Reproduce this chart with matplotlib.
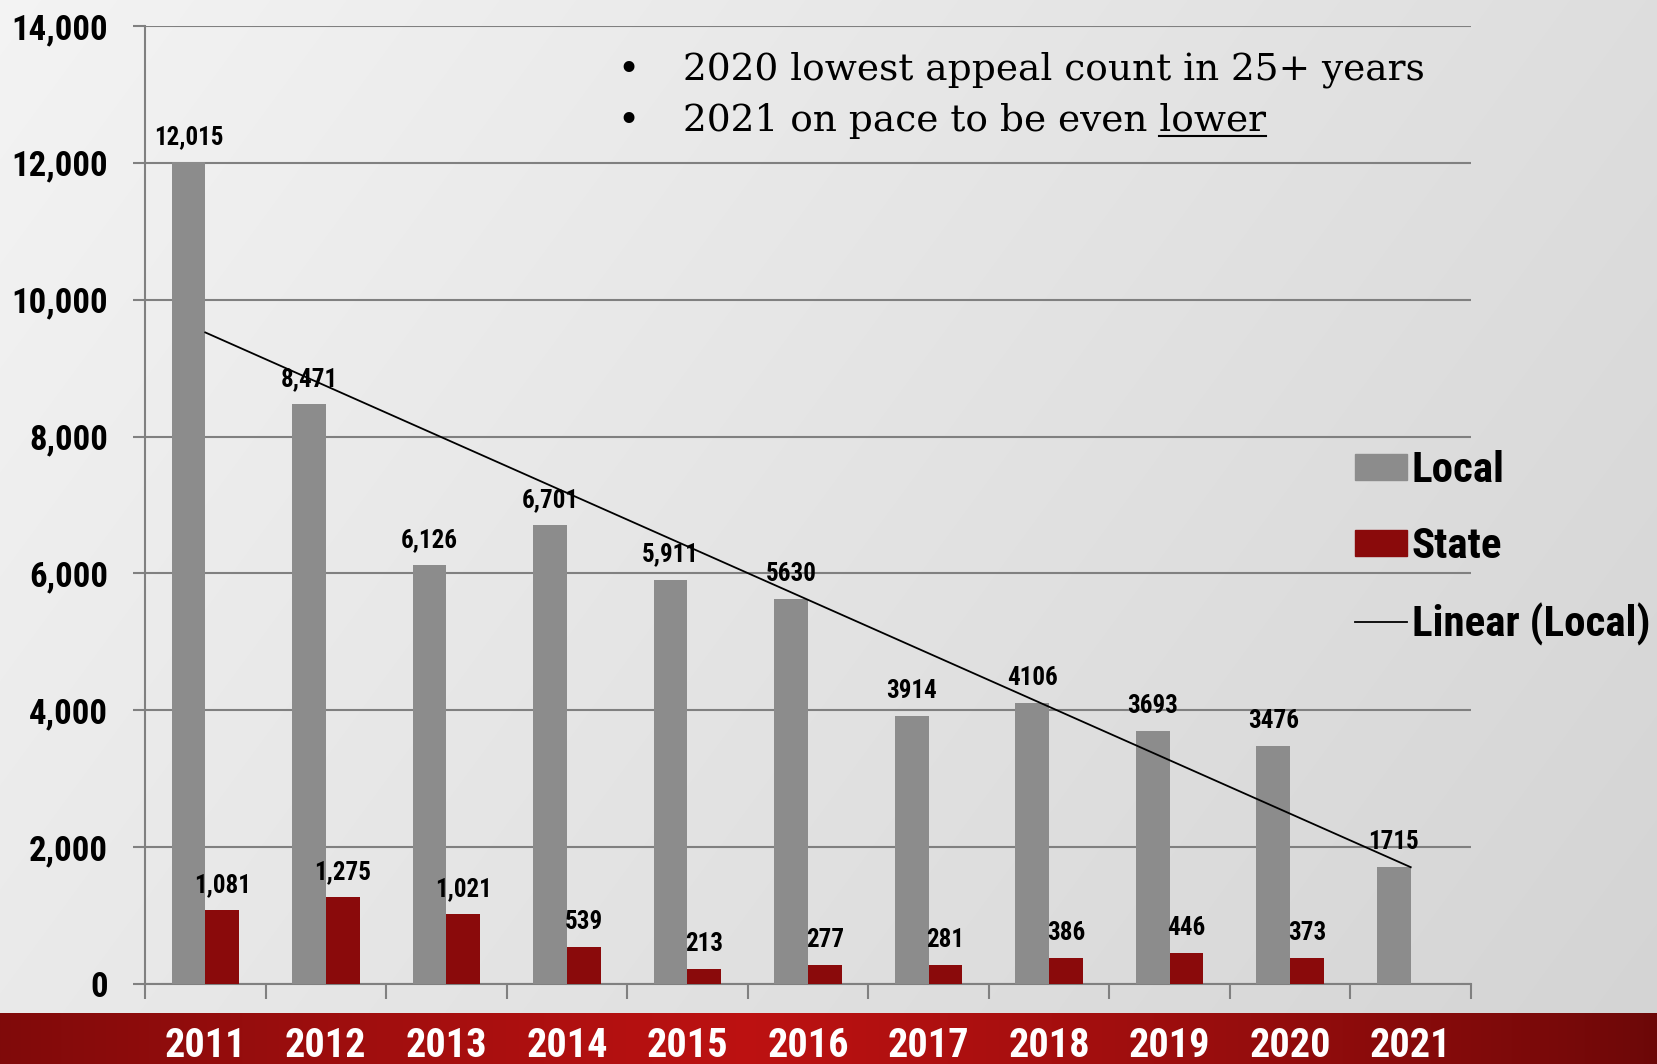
import numpy as np
import matplotlib
matplotlib.use('Agg')
import matplotlib.pyplot as plt
from matplotlib import font_manager as fm
from matplotlib.lines import Line2D
from matplotlib.patches import Patch

# ---------------- data ----------------
years = ['2011', '2012', '2013', '2014', '2015', '2016', '2017', '2018', '2019', '2020', '2021']
local = [12015, 8471, 6126, 6701, 5911, 5630, 3914, 4106, 3693, 3476, 1715]
state = [1081, 1275, 1021, 539, 213, 277, 281, 386, 446, 373]
local_labels = ['12,015', '8,471', '6,126', '6,701', '5,911', '5630', '3914', '4106', '3693', '3476', '1715']
state_labels = ['1,081', '1,275', '1,021', '539', '213', '277', '281', '386', '446', '373']
yticks = [0, 2000, 4000, 6000, 8000, 10000, 12000, 14000]
ytick_labels = ['0', '2,000', '4,000', '6,000', '8,000', '10,000', '12,000', '14,000']
series_names = ['Local', 'State', 'Linear (Local)']
note1 = '2020 lowest appeal count in 25+ years'
note2_prefix = '2021 on pace to be even '
note2_under = 'lower'


def pick(cands):
    for c in cands:
        try:
            fm.findfont(fm.FontProperties(family=c), fallback_to_default=False)
            return c
        except Exception:
            pass
    return 'DejaVu Sans'


COND = pick(['Liberation Sans Narrow', 'Roboto Condensed', 'DejaVu Sans'])
SERIF = pick(['DejaVu Serif', 'Liberation Serif'])
print('fonts:', COND, SERIF)

W, H = 1658, 1064
fig = plt.figure(figsize=(W / 100, H / 100), dpi=100)

# ---------------- background ----------------
bg = fig.add_axes([0, 0, 1, 1], zorder=-10)
bg.axis('off')
yy, xx = np.mgrid[0:1:H * 1j, 0:1:W * 1j]
g = 0.955 - 0.085 * xx - 0.04 * yy
img = np.dstack([g, g, g])
band_px = 51
xr = np.linspace(0, 1, W)
t = np.clip(1 - np.abs(xr - 0.45) / 0.55, 0, 1) ** 0.8
dark = np.array([0.42, 0.03, 0.03])
bright = np.array([0.74, 0.07, 0.07])
red = dark[None, :] + (bright - dark)[None, :] * t[:, None]
img[H - band_px:, :, :] = red[None, :, :]
bg.imshow(img, extent=[0, 1, 0, 1], aspect='auto', origin='upper')
bg.set_xlim(0, 1)
bg.set_ylim(0, 1)

# ---------------- main axes ----------------
L, R, T, B = 145, 1471, 26, 984
ax = fig.add_axes([L / W, 1 - B / H, (R - L) / W, (B - T) / H])
ax.patch.set_alpha(0)

x = np.arange(len(years))
bw = 0.28
ax.bar(x - bw / 2, local, bw, color='#8c8c8c', zorder=3)
xs = x[:len(state)]
ax.bar(xs + bw / 2, state, bw, color='#8a0a0b', zorder=3)

coef = np.polyfit(x, local, 1)
ax.plot([x[0], x[-1]], np.polyval(coef, [x[0], x[-1]]), color='black', lw=1.3, zorder=4)

ax.set_xlim(-0.5, len(years) - 0.5)
ax.set_ylim(0, 14000)

gray = '#808080'
ax.set_xticks(np.arange(-0.5, len(years), 1))
ax.set_xticklabels([])
ax.tick_params(axis='x', length=10.8, width=1.5, color=gray, direction='out')
ax.set_yticks(yticks)
ax.set_yticklabels(ytick_labels, fontsize=25, fontweight='bold', family=COND, fontstretch='condensed')
ax.tick_params(axis='y', length=8.6, width=1.5, color=gray, pad=18)
ax.yaxis.grid(True, color=gray, lw=1.5)
ax.set_axisbelow(True)
for s in ['top', 'right']:
    ax.spines[s].set_visible(False)
for s in ['left', 'bottom']:
    ax.spines[s].set_color(gray)
    ax.spines[s].set_linewidth(1.5)

lbl_kw = dict(textcoords='offset points', ha='center', va='baseline', fontsize=18,
              fontweight='bold', family=COND, fontstretch='condensed', zorder=5)
for xi, v, s in zip(x, local, local_labels):
    ax.annotate(s, (xi - bw / 2, v), xytext=(0, 13), **lbl_kw)
for xi, v, s in zip(xs, state, state_labels):
    ax.annotate(s, (xi + bw / 2, v), xytext=(0, 13), **lbl_kw)

for xi, yr in zip(x, years):
    ax.annotate(yr, (xi, 0), xycoords=('data', 'axes fraction'), xytext=(0, -52.6),
                textcoords='offset points', ha='center', va='baseline', color='white',
                fontsize=29, fontweight='bold', family=COND, fontstretch='condensed',
                annotation_clip=False)

# ---------------- legend ----------------
handles = [Patch(color='#8c8c8c'), Patch(color='#8a0a0b'), Line2D([], [], color='black', lw=1.3)]
fig.legend(handles, series_names, loc='upper left', bbox_to_anchor=(1355 / W, 1 - 450 / H),
           frameon=False, prop=dict(family=COND, weight='bold', size=31, stretch='condensed'),
           handlelength=1.2, handleheight=0.56, handletextpad=0.12, labelspacing=0.82,
           borderpad=0, borderaxespad=0)

# ---------------- notes ----------------
nfs = 27
fig.text(617 / W, 1 - 80 / H, '\u2022', fontsize=nfs, family=SERIF, va='baseline')
fig.text(617 / W, 1 - 131 / H, '\u2022', fontsize=nfs, family=SERIF, va='baseline')
fig.text(683 / W, 1 - 80 / H, note1, fontsize=nfs, family=SERIF, va='baseline')
full2 = fig.text(683 / W, 1 - 131 / H, note2_prefix + note2_under, fontsize=nfs, family=SERIF, va='baseline')
fig.canvas.draw()
r = fig.canvas.get_renderer()
e_full = full2.get_window_extent(r)
tmp2 = fig.text(683 / W, 1 - 131 / H, note2_under, fontsize=nfs, family=SERIF, va='baseline')
w_word = tmp2.get_window_extent(r).width
tmp2.remove()
ux1 = e_full.x1
ux0 = ux1 - w_word
uy = (H - 131 - 5)
fig.add_artist(Line2D([ux0 / W, ux1 / W], [uy / H, uy / H], color='black', lw=1.5,
                      transform=fig.transFigure))

fig.savefig('out.png', dpi=100)
